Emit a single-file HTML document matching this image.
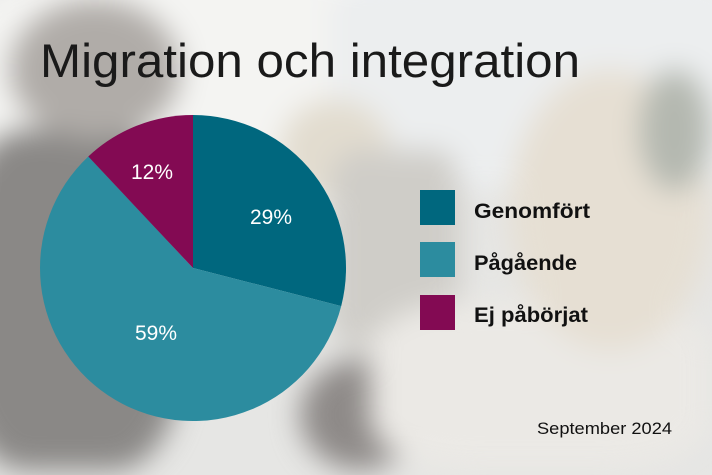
<!DOCTYPE html>
<html><head><meta charset="utf-8"><style>
html,body{margin:0;padding:0;overflow:hidden;width:712px;height:475px}
body{position:relative;background:#e6e6e4;font-family:"Liberation Sans",sans-serif}
.wrap{position:absolute;left:0;top:0;width:712px;height:475px;overflow:hidden;clip-path:inset(0)}
.bg{position:absolute;left:0;top:0;width:712px;height:475px;filter:blur(14px)}
.b{position:absolute;border-radius:50%}
svg{display:block}
</style></head><body>
<div class="wrap"><div class="bg">
  <div class="b" style="left:-60px;top:-40px;width:520px;height:260px;background:#f4f4f2;border-radius:40%"></div>
  <div class="b" style="left:330px;top:-30px;width:420px;height:220px;background:#eceeef;border-radius:20%"></div>
  <div class="b" style="left:-40px;top:130px;width:220px;height:340px;background:#8a8886;border-radius:30%"></div>
  <div class="b" style="left:10px;top:0px;width:170px;height:140px;background:#b0aca8"></div>
  <div class="b" style="left:280px;top:100px;width:110px;height:100px;background:#e2dccf"></div>
  <div class="b" style="left:330px;top:150px;width:130px;height:200px;background:#cfcdc8;border-radius:20%"></div>
  <div class="b" style="left:300px;top:360px;width:120px;height:110px;background:#8e8a88"></div>
  <div class="b" style="left:370px;top:300px;width:340px;height:170px;background:#ebe9e5;border-radius:30%"></div>
  <div class="b" style="left:510px;top:70px;width:200px;height:280px;background:#e6dfd3"></div>
  <div class="b" style="left:640px;top:70px;width:70px;height:120px;background:#b4b8b0"></div>
</div></div>
<svg width="712" height="475" style="position:absolute;left:0;top:0">
  <text x="40" y="77" font-size="47" fill="#1a1a1a" textLength="540" lengthAdjust="spacingAndGlyphs">Migration och integration</text>
  <path d="M193,268 L193,115 A153,153 0 0 1 341.2,306.1 Z" fill="#00677e"/>
  <path d="M193,268 L341.2,306.1 A153,153 0 1 1 88.3,156.5 Z" fill="#2c8c9f"/>
  <path d="M193,268 L88.3,156.5 A153,153 0 0 1 193,115 Z" fill="#830a53"/>
  <g fill="#fff" font-size="21" text-anchor="middle">
    <text x="271" y="224" textLength="42" lengthAdjust="spacingAndGlyphs">29%</text>
    <text x="156" y="340" textLength="42" lengthAdjust="spacingAndGlyphs">59%</text>
    <text x="152" y="179" textLength="42" lengthAdjust="spacingAndGlyphs">12%</text>
  </g>
  <rect x="420" y="190" width="35" height="35" fill="#00677e"/>
  <rect x="420" y="242" width="35" height="35" fill="#2c8c9f"/>
  <rect x="420" y="295" width="35" height="35" fill="#830a53"/>
  <g fill="#111" font-size="21" font-weight="bold">
    <text x="474" y="218" textLength="116" lengthAdjust="spacingAndGlyphs">Genomfört</text>
    <text x="474" y="270" textLength="103" lengthAdjust="spacingAndGlyphs">Pågående</text>
    <text x="474" y="322" textLength="114" lengthAdjust="spacingAndGlyphs">Ej påbörjat</text>
  </g>
  <text x="537" y="434" font-size="17" fill="#111" textLength="135" lengthAdjust="spacingAndGlyphs">September 2024</text>
</svg>
</body></html>
